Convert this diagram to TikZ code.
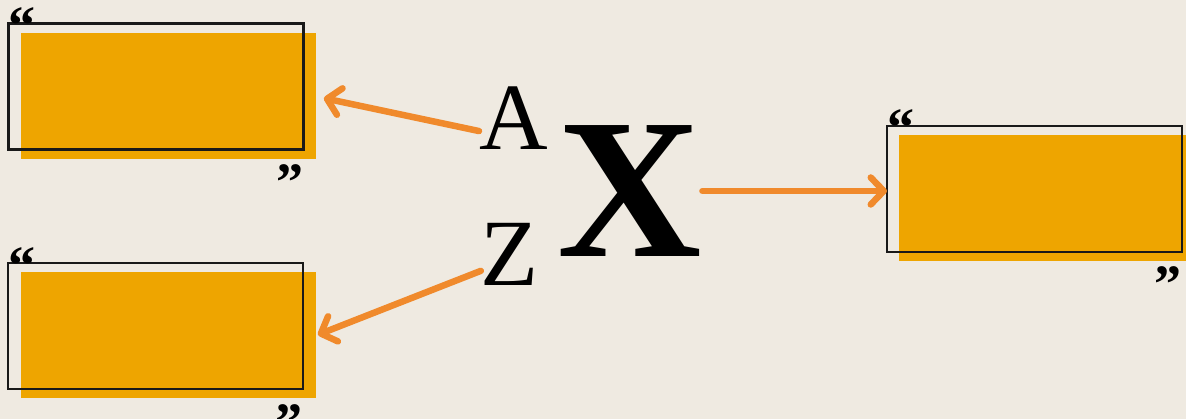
\documentclass[tikz,border=0pt]{standalone}
\usepackage{fontspec}
\setmainfont{Liberation Serif}
\usetikzlibrary{arrows.meta,positioning,calc}
\definecolor{paper}{HTML}{EFEAE1}
\definecolor{quotegold}{HTML}{EEA500}
\definecolor{arroworange}{HTML}{F08A2C}

\tikzset{
  pad/.style={fill=quotegold, minimum width=295pt, minimum height=126pt, inner sep=0pt, outer sep=0pt},
  frame/.style={draw=black!90, line width=2.5pt, minimum width=295pt, minimum height=126pt, inner sep=0pt, outer sep=0pt},
  qmark/.style={inner sep=0pt, font=\fontsize{54}{54}\selectfont\bfseries},
  letter/.style={inner sep=0pt, font=\fontsize{95}{95}\selectfont},
  arr/.style={arroworange, line width=6.5pt, line cap=round, -{Straight Barb[length=13pt,width=27pt,round]}},
}

\begin{document}
\begin{tikzpicture}[x=1pt,y=-1pt]
% Background
\fill[paper] (0,0) rectangle (1186,419);
\useasboundingbox (0,0) rectangle (1186,419);

% Quote box A - top left
\node[pad] (padA) at (168.5,96.5) {};
\node[frame] (frameA) at (156,86.5) {};
\node[qmark, anchor=north west] (openA) at ([yshift=16pt]frameA.north west) {“};
\node[qmark, anchor=north east] (closeA) at ([yshift=-15pt]frameA.south east) {”};

% Quote box B - bottom left
\node[pad] (padB) at (168.5,335.5) {};
\node[frame] (frameB) at (155.5,326) {};
\node[qmark, anchor=north west] (openB) at ([yshift=16pt]frameB.north west) {“};
\node[qmark, anchor=north east] (closeB) at ([yshift=-15pt]frameB.south east) {”};

% Quote box C - right
\node[pad] (padC) at (1046.5,198.5) {};
\node[frame] (frameC) at (1034.5,189) {};
\node[qmark, anchor=north west] (openC) at ([yshift=17pt]frameC.north west) {“};
\node[qmark, anchor=north east] (closeC) at ([yshift=-14pt]frameC.south east) {”};

% Letters
\node[letter] (A) at (513.5,118.5) {A};
\node[letter] (Z) at (510,254) {Z};
\node[letter, font=\fontsize{200}{200}\selectfont\bfseries] (X) at (630,191) {X};

% Arrows
\draw[arr, shorten >=8pt] (A.200) -- (padA.east);
\draw[arr, shorten >=2pt] (Z.210) -- (padB.east);
\draw[arr] (X.east) -- (X.east -| frameC.west);
\end{tikzpicture}
\end{document}
